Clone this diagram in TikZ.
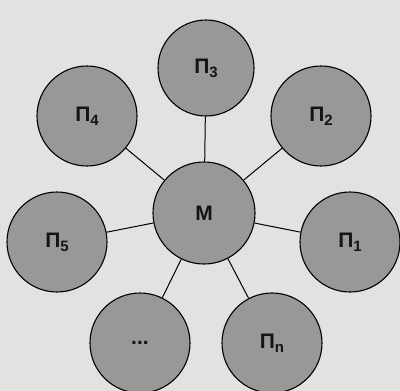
\documentclass[tikz,border=0pt]{standalone}
\usepackage{fontspec}
\setmainfont{Liberation Sans}
\definecolor{bgc}{RGB}{226,226,224}
\definecolor{circc}{RGB}{152,152,150}
\definecolor{txtc}{RGB}{20,20,20}
\newcommand{\sbs}[1]{\raisebox{-0.35ex}{\fontsize{15}{15}\selectfont #1}}
\begin{document}
\begin{tikzpicture}[x=1pt,y=-1pt,
  ball/.style={circle,draw=black,line width=1.1pt,fill=circc,text=txtc,minimum size=#1,inner sep=0pt,font=\fontsize{21}{24}\selectfont\bfseries},
  ball/.default=100pt,
  link/.style={line width=1pt,black}]
\fill[bgc] (0,0) rectangle (400,391);
\useasboundingbox (0,0) rectangle (400,391);
\node[ball=102pt] (M) at (204,213) {M};
\node[ball=96pt] (p3) at (206,68) {П\sbs{3}};
\node[ball] (p2) at (321,116) {П\sbs{2}};
\node[ball] (p4) at (87,116) {П\sbs{4}};
\node[ball] (p5) at (57,242) {П\sbs{5}};
\node[ball] (p1) at (350,242) {П\sbs{1}};
\node[ball] (pd) at (140,343) {...};
\node[ball] (pn) at (272,343) {П\sbs{n}};
\foreach \t in {p1,p2,p3,p4,p5,pd,pn}
  \draw[link] (M) -- (\t);
\end{tikzpicture}
\end{document}
